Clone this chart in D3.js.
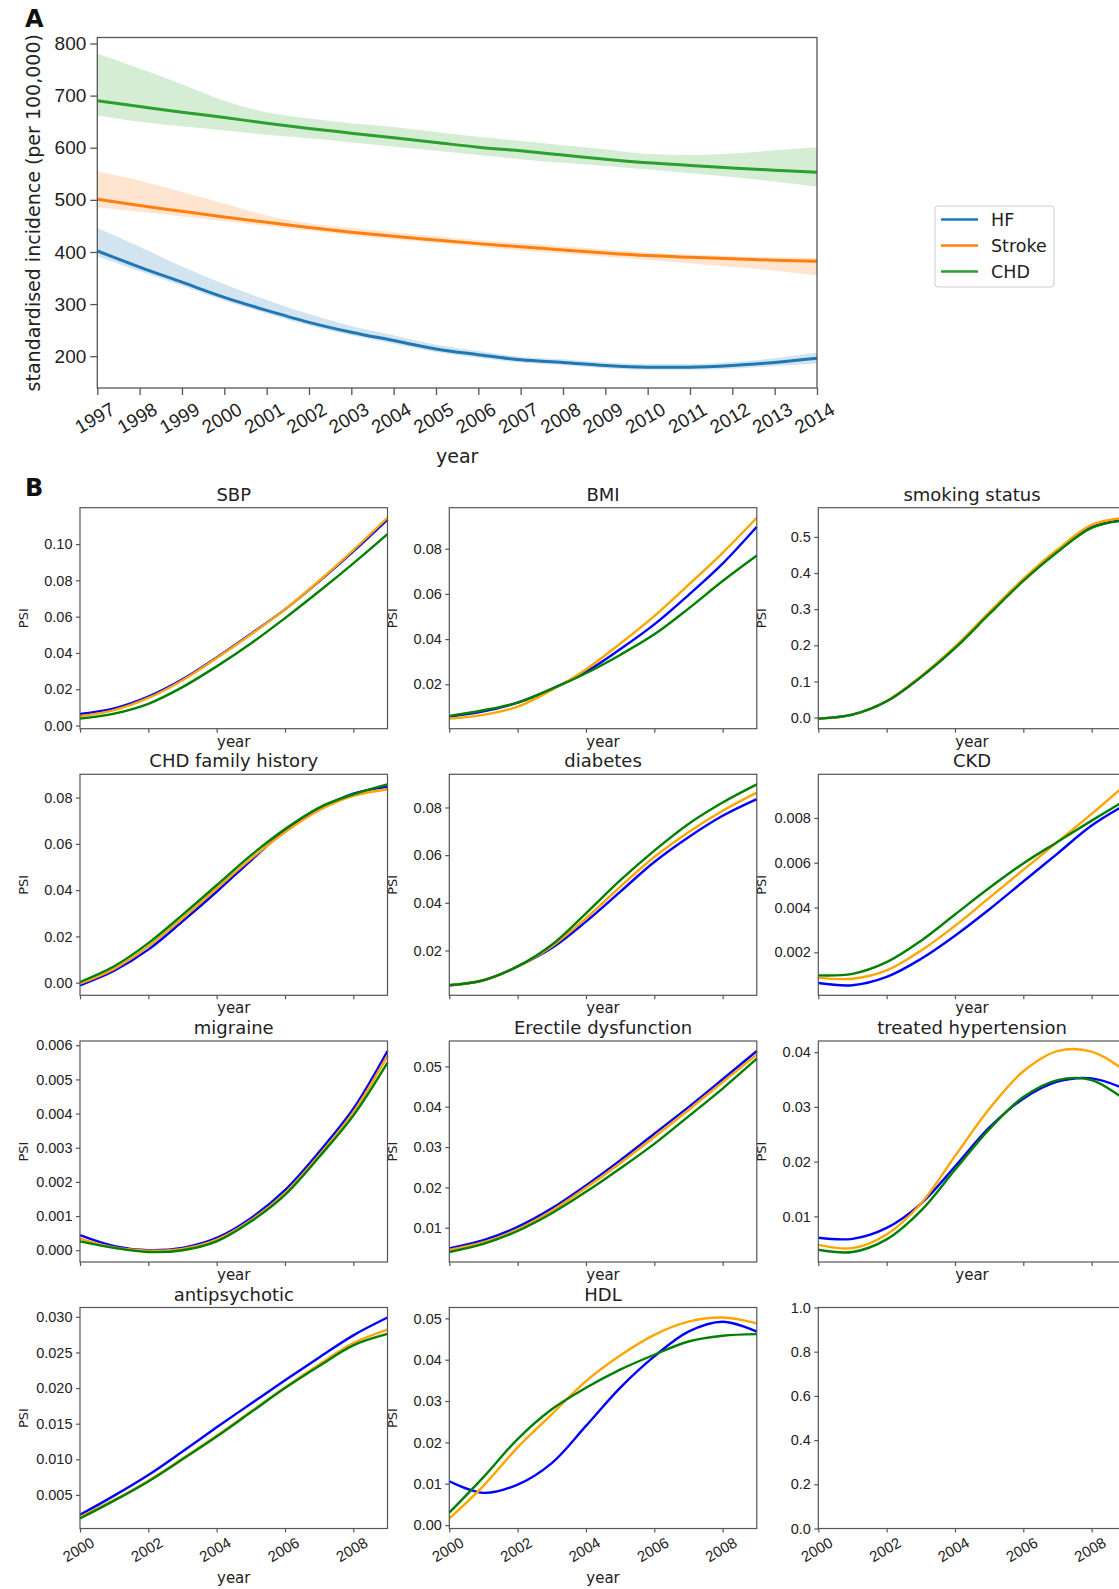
<!DOCTYPE html>
<html>
<head>
<meta charset="utf-8">
<script src="https://cdnjs.cloudflare.com/ajax/libs/d3/7.8.5/d3.min.js"></script>
<style>
  body { margin: 0; background: #fff; }
  svg { display: block; font-family: 'DejaVu Sans', sans-serif; }
</style>
</head>
<body>
<svg id="canvas"></svg>
<script>
// Canvas size
var canvasWidth = 1119;
var canvasHeight = 1589;

// ---- Panel A data ----
var yearsA = [1997, 1998, 1999, 2000, 2001, 2002, 2003, 2004, 2005, 2006, 2007, 2008, 2009, 2010, 2011, 2012, 2013, 2014];
var seriesNames = ['HF', 'Stroke', 'CHD'];
var colorsA = ['#1f77b4', '#ff7f0e', '#2ca02c'];

var hfMid = [402, 371, 342, 313, 288, 265, 246, 230, 214, 203, 193, 188, 182, 179, 179, 182, 188, 196];
var hfHigh = [446, 410, 372, 338, 308, 281, 258, 240, 222, 210, 199, 194, 188, 185, 185, 189, 196, 207];
var hfLow = [392, 363, 335, 307, 282, 259, 240, 224, 208, 197, 188, 183, 177, 174, 174, 176, 181, 186];

var strokeMid = [501, 489, 478, 467, 457, 447, 438, 430, 423, 416, 410, 404, 398, 393, 390, 387, 384, 382];
var strokeHigh = [555, 537, 515, 493, 470, 455, 446, 438, 430, 423, 417, 411, 405, 399, 395, 392, 390, 389];
var strokeLow = [486, 477, 468, 459, 450, 441, 432, 424, 417, 410, 403, 397, 391, 385, 378, 371, 364, 355];

var chdMid = [690, 679, 668, 658, 647, 637, 628, 619, 610, 601, 594, 586, 578, 571, 566, 561, 557, 553];
var chdHigh = [781, 752, 722, 690, 668, 656, 647, 640, 630, 621, 613, 605, 597, 588, 586, 589, 595, 601];
var chdLow = [662, 650, 641, 633, 625, 618, 610, 602, 594, 586, 578, 571, 565, 558, 551, 544, 535, 525];

var yTicksA = [200, 300, 400, 500, 600, 700, 800];

// ---- Panel B data ----
var yearsB = [2000, 2001, 2002, 2003, 2004, 2005, 2006, 2007, 2008, 2009];
var xTicksB = [2000, 2002, 2004, 2006, 2008];
var colorsB = ['#0000ff', '#ffa500', '#008000'];

var sbpHF = [0.0064, 0.0095, 0.0160, 0.0255, 0.0375, 0.0505, 0.0640, 0.0795, 0.0960, 0.1135];
var sbpStroke = [0.0051, 0.0085, 0.0152, 0.0250, 0.0372, 0.0502, 0.0640, 0.0798, 0.0967, 0.1145];
var sbpCHD = [0.0038, 0.0066, 0.0120, 0.0212, 0.0326, 0.0452, 0.0592, 0.0740, 0.0894, 0.1055];

var bmiHF = [0.0057, 0.0080, 0.0119, 0.0180, 0.0255, 0.0355, 0.0465, 0.0595, 0.0734, 0.0897];
var bmiStroke = [0.0048, 0.0065, 0.0101, 0.0175, 0.0266, 0.0380, 0.0502, 0.0640, 0.0782, 0.0937];
var bmiCHD = [0.0060, 0.0085, 0.0119, 0.0180, 0.0249, 0.0330, 0.0421, 0.0535, 0.0657, 0.0770];

var smokingHF = [-0.003, 0.008, 0.045, 0.112, 0.193, 0.288, 0.380, 0.460, 0.527, 0.548];
var smokingStroke = [-0.003, 0.008, 0.046, 0.114, 0.196, 0.291, 0.384, 0.465, 0.533, 0.553];
var smokingCHD = [-0.003, 0.008, 0.045, 0.112, 0.192, 0.286, 0.378, 0.458, 0.525, 0.546];

var famHF = [-0.0011, 0.0052, 0.0143, 0.0265, 0.0393, 0.0528, 0.0657, 0.0750, 0.0817, 0.0846];
var famStroke = [-0.0004, 0.0060, 0.0157, 0.0278, 0.0407, 0.0535, 0.0650, 0.0745, 0.0807, 0.0836];
var famCHD = [0.0003, 0.0071, 0.0171, 0.0293, 0.0421, 0.0550, 0.0664, 0.0757, 0.0814, 0.0857];

var diabetesHF = [0.0054, 0.0075, 0.0133, 0.0210, 0.0321, 0.0446, 0.0571, 0.0675, 0.0765, 0.0835];
var diabetesStroke = [0.0054, 0.0075, 0.0133, 0.0217, 0.0335, 0.0467, 0.0592, 0.0696, 0.0786, 0.0862];
var diabetesCHD = [0.0054, 0.0075, 0.0133, 0.0224, 0.0356, 0.0494, 0.0619, 0.0731, 0.0821, 0.0897];

var ckdHF = [0.00063, 0.00053, 0.00090, 0.00170, 0.00274, 0.00391, 0.00516, 0.00641, 0.00766, 0.00860];
var ckdStroke = [0.00087, 0.00082, 0.00119, 0.00207, 0.00318, 0.00443, 0.00568, 0.00693, 0.00818, 0.00950];
var ckdCHD = [0.00097, 0.00104, 0.00156, 0.00251, 0.00369, 0.00487, 0.00597, 0.00693, 0.00788, 0.00880];

var migraineHF = [0.00044, 0.00012, 0.00000, 0.00007, 0.00036, 0.00094, 0.00176, 0.00288, 0.00414, 0.00583];
var migraineStroke = [0.00034, 0.00008, -0.00001, 0.00004, 0.00031, 0.00088, 0.00167, 0.00278, 0.00404, 0.00569];
var migraineCHD = [0.00026, 0.00007, -0.00005, 0.00000, 0.00026, 0.00084, 0.00162, 0.00273, 0.00394, 0.00549];

var edHF = [0.0049, 0.0069, 0.0102, 0.0148, 0.0205, 0.0267, 0.0333, 0.0399, 0.0468, 0.0538];
var edStroke = [0.0045, 0.0064, 0.0096, 0.0142, 0.0199, 0.0260, 0.0325, 0.0392, 0.0461, 0.0529];
var edCHD = [0.0040, 0.0060, 0.0092, 0.0136, 0.0189, 0.0247, 0.0308, 0.0376, 0.0445, 0.0519];

var hypHF = [0.0061, 0.0059, 0.0079, 0.0123, 0.0191, 0.0262, 0.0315, 0.0346, 0.0352, 0.0332];
var hypStroke = [0.0048, 0.0042, 0.0067, 0.0123, 0.0210, 0.0296, 0.0365, 0.0402, 0.0401, 0.0365];
var hypCHD = [0.0039, 0.0035, 0.0058, 0.0110, 0.0185, 0.0259, 0.0318, 0.0349, 0.0349, 0.0312];

var antiHF = [0.0022, 0.0049, 0.0078, 0.0111, 0.0145, 0.0178, 0.0211, 0.0243, 0.0274, 0.0299];
var antiStroke = [0.0019, 0.0043, 0.0070, 0.0101, 0.0133, 0.0167, 0.0201, 0.0233, 0.0263, 0.0282];
var antiCHD = [0.0017, 0.0042, 0.0069, 0.0100, 0.0132, 0.0166, 0.0200, 0.0231, 0.0260, 0.0276];

var hdlHF = [0.0106, 0.0078, 0.0098, 0.0150, 0.0240, 0.0332, 0.0408, 0.0468, 0.0492, 0.0468];
var hdlStroke = [0.0016, 0.0095, 0.0188, 0.0268, 0.0348, 0.0410, 0.0460, 0.0492, 0.0502, 0.0488];
var hdlCHD = [0.0030, 0.0116, 0.0208, 0.0280, 0.0332, 0.0376, 0.0412, 0.0444, 0.0458, 0.0462];

// Tick labels per panel
var sbpTicks = [0, 0.02, 0.04, 0.06, 0.08, 0.10];
var bmiTicks = [0.02, 0.04, 0.06, 0.08];
var smokingTicks = [0, 0.1, 0.2, 0.3, 0.4, 0.5];
var famTicks = [0, 0.02, 0.04, 0.06, 0.08];
var diabetesTicks = [0.02, 0.04, 0.06, 0.08];
var ckdTicks = [0.002, 0.004, 0.006, 0.008];
var migraineTicks = [0, 0.001, 0.002, 0.003, 0.004, 0.005, 0.006];
var edTicks = [0.01, 0.02, 0.03, 0.04, 0.05];
var hypTicks = [0.01, 0.02, 0.03, 0.04];
var antiTicks = [0.005, 0.010, 0.015, 0.020, 0.025, 0.030];
var hdlTicks = [0, 0.01, 0.02, 0.03, 0.04, 0.05];
var emptyTicks = [0, 0.2, 0.4, 0.6, 0.8, 1.0];

var panels = [
  { title: 'SBP', series: [sbpHF, sbpStroke, sbpCHD], ticks: sbpTicks, digits: 2 },
  { title: 'BMI', series: [bmiHF, bmiStroke, bmiCHD], ticks: bmiTicks, digits: 2 },
  { title: 'smoking status', series: [smokingHF, smokingStroke, smokingCHD], ticks: smokingTicks, digits: 1 },
  { title: 'CHD family history', series: [famHF, famStroke, famCHD], ticks: famTicks, digits: 2 },
  { title: 'diabetes', series: [diabetesHF, diabetesStroke, diabetesCHD], ticks: diabetesTicks, digits: 2 },
  { title: 'CKD', series: [ckdHF, ckdStroke, ckdCHD], ticks: ckdTicks, digits: 3 },
  { title: 'migraine', series: [migraineHF, migraineStroke, migraineCHD], ticks: migraineTicks, digits: 3 },
  { title: 'Erectile dysfunction', series: [edHF, edStroke, edCHD], ticks: edTicks, digits: 2 },
  { title: 'treated hypertension', series: [hypHF, hypStroke, hypCHD], ticks: hypTicks, digits: 2 },
  { title: 'antipsychotic', series: [antiHF, antiStroke, antiCHD], ticks: antiTicks, digits: 3 },
  { title: 'HDL', series: [hdlHF, hdlStroke, hdlCHD], ticks: hdlTicks, digits: 2 },
  { title: '', series: [], ticks: emptyTicks, digits: 1 }
];

var textColor = '#222';
var spineColor = '#555';

var svg = d3.select('#canvas')
  .attr('width', canvasWidth)
  .attr('height', canvasHeight);

/**
 * Panel A: standardised incidence with confidence bands.
 */
function drawPanelA() {
  var box = { left: 97.3, right: 817, top: 37.5, bottom: 388 };

  var xScale = d3.scaleLinear()
    .domain([yearsA[0], yearsA[yearsA.length - 1]])
    .range([box.left, box.right]);

  var yScale = d3.scaleLinear()
    .domain([139, 811.5])
    .range([box.bottom, box.top]);

  var mids = [hfMid, strokeMid, chdMid];
  var highs = [hfHigh, strokeHigh, chdHigh];
  var lows = [hfLow, strokeLow, chdLow];

  var g = svg.append('g').attr('class', 'panel-a');

  // Bands
  mids.forEach(function(mid, i) {
    var area = d3.area()
      .x(function(d, j) { return xScale(yearsA[j]); })
      .y0(function(d, j) { return yScale(lows[i][j]); })
      .y1(function(d, j) { return yScale(highs[i][j]); })
      .curve(d3.curveMonotoneX);

    g.append('path')
      .datum(mid)
      .attr('d', area)
      .attr('fill', colorsA[i])
      .attr('fill-opacity', 0.2)
      .attr('stroke', 'none');
  });

  // Lines
  mids.forEach(function(mid, i) {
    var line = d3.line()
      .x(function(d, j) { return xScale(yearsA[j]); })
      .y(function(d) { return yScale(d); })
      .curve(d3.curveMonotoneX);

    g.append('path')
      .datum(mid)
      .attr('d', line)
      .attr('fill', 'none')
      .attr('stroke', colorsA[i])
      .attr('stroke-width', 3);
  });

  // Axes
  var yAxis = d3.axisLeft(yScale)
    .tickValues(yTicksA)
    .tickSize(7)
    .tickPadding(4);

  var xAxis = d3.axisBottom(xScale)
    .tickValues(yearsA)
    .tickFormat(d3.format('d'))
    .tickSize(7);

  var ya = g.append('g')
    .attr('transform', 'translate(' + box.left + ',0)')
    .call(yAxis);

  var xa = g.append('g')
    .attr('transform', 'translate(0,' + box.bottom + ')')
    .call(xAxis);

  [ya, xa].forEach(function(a) {
    a.select('.domain').remove();
    a.selectAll('line').attr('stroke', spineColor).attr('stroke-width', 1.3);
    a.selectAll('text')
      .attr('fill', textColor)
      .style('font-size', '19px');
  });

  xa.selectAll('text')
    .attr('x', 0)
    .attr('y', 0)
    .attr('dy', '0.35em')
    .attr('text-anchor', 'middle')
    .attr('transform', 'translate(-3,30) rotate(-30)');

  // Frame
  g.append('rect')
    .attr('x', box.left)
    .attr('y', box.top)
    .attr('width', box.right - box.left)
    .attr('height', box.bottom - box.top)
    .attr('fill', 'none')
    .attr('stroke', spineColor)
    .attr('stroke-width', 1.3);

  // Axis labels
  g.append('text')
    .attr('transform', 'translate(40,' + ((box.top + box.bottom) / 2) + ') rotate(-90)')
    .attr('text-anchor', 'middle')
    .attr('fill', textColor)
    .style('font-size', '19px')
    .text('standardised incidence (per 100,000)');

  g.append('text')
    .attr('x', (box.left + box.right) / 2)
    .attr('y', 463)
    .attr('text-anchor', 'middle')
    .attr('fill', textColor)
    .style('font-size', '19px')
    .text('year');

  // Legend
  var legend = g.append('g').attr('class', 'legend');
  legend.append('rect')
    .attr('x', 935)
    .attr('y', 206)
    .attr('width', 119)
    .attr('height', 81)
    .attr('rx', 3)
    .attr('fill', '#fff')
    .attr('stroke', '#ccc');

  seriesNames.forEach(function(name, i) {
    var ly = 219.5 + i * 26;
    legend.append('line')
      .attr('x1', 941)
      .attr('x2', 978)
      .attr('y1', ly)
      .attr('y2', ly)
      .attr('stroke', colorsA[i])
      .attr('stroke-width', 2.5);
    legend.append('text')
      .attr('x', 991)
      .attr('y', ly)
      .attr('dy', '0.35em')
      .attr('fill', textColor)
      .style('font-size', '17.5px')
      .text(name);
  });

  svg.append('text')
    .attr('x', 25)
    .attr('y', 27)
    .attr('fill', '#111')
    .style('font-size', '24px')
    .style('font-weight', 'bold')
    .text('A');
}

/**
 * Panel B: small multiples of PSI by risk factor.
 */
function drawPanelB() {
  var colLeft = [80, 449.3, 818.3];
  var rowTop = [507.7, 774.3, 1041, 1307.5];
  var panelWidth = 307.5;
  var panelHeight = 221;

  svg.append('text')
    .attr('x', 25)
    .attr('y', 496)
    .attr('fill', '#111')
    .style('font-size', '24px')
    .style('font-weight', 'bold')
    .text('B');

  panels.forEach(function(p, idx) {
    var row = Math.floor(idx / 3);
    var col = idx % 3;
    var left = colLeft[col];
    var top = rowTop[row];
    var bottom = top + panelHeight;
    var isBottomRow = row === 3;

    var xScale = d3.scaleLinear()
      .domain([yearsB[0], yearsB[yearsB.length - 1]])
      .range([left, left + panelWidth]);

    var yDomain = [0, 1];
    if (p.series.length) {
      var all = d3.merge(p.series);
      var ext = d3.extent(all);
      var pad = (ext[1] - ext[0]) * 0.05;
      yDomain = [ext[0] - pad, ext[1] + pad];
    }

    var yScale = d3.scaleLinear()
      .domain(yDomain)
      .range([bottom, top]);

    var g = svg.append('g').attr('class', 'panel-b');

    var line = d3.line()
      .x(function(d, j) { return xScale(yearsB[j]); })
      .y(function(d) { return yScale(d); })
      .curve(d3.curveCatmullRom.alpha(0.5));

    p.series.forEach(function(s, i) {
      g.append('path')
        .datum(s)
        .attr('d', line)
        .attr('fill', 'none')
        .attr('stroke', colorsB[i])
        .attr('stroke-width', 2.4);
    });

    var yAxis = d3.axisLeft(yScale)
      .tickValues(p.ticks)
      .tickFormat(d3.format('.' + p.digits + 'f'))
      .tickSize(4)
      .tickPadding(3.5);

    var xAxis = d3.axisBottom(xScale)
      .tickValues(xTicksB)
      .tickFormat(isBottomRow ? d3.format('d') : '')
      .tickSize(4);

    var ya = g.append('g')
      .attr('transform', 'translate(' + left + ',0)')
      .call(yAxis);

    var xa = g.append('g')
      .attr('transform', 'translate(0,' + bottom + ')')
      .call(xAxis);

    [ya, xa].forEach(function(a) {
      a.select('.domain').remove();
      a.selectAll('line').attr('stroke', spineColor).attr('stroke-width', 1.2);
      a.selectAll('text')
        .attr('fill', textColor)
        .style('font-size', '14.5px');
    });

    if (isBottomRow) {
      xa.selectAll('text')
        .style('font-size', '15px')
        .attr('x', 0)
        .attr('y', 0)
        .attr('dy', '0.35em')
        .attr('text-anchor', 'middle')
        .attr('transform', 'translate(-2,21) rotate(-30)');
    }

    g.append('rect')
      .attr('x', left)
      .attr('y', top)
      .attr('width', panelWidth)
      .attr('height', panelHeight)
      .attr('fill', 'none')
      .attr('stroke', spineColor)
      .attr('stroke-width', 1.2);

    if (p.title) {
      g.append('text')
        .attr('x', left + panelWidth / 2)
        .attr('y', top - 7)
        .attr('text-anchor', 'middle')
        .attr('fill', textColor)
        .style('font-size', '18px')
        .text(p.title);
    }

    if (p.series.length) {
      g.append('text')
        .attr('transform', 'translate(' + (left - 52) + ',' + (top + panelHeight / 2) + ') rotate(-90)')
        .attr('text-anchor', 'middle')
        .attr('fill', textColor)
        .style('font-size', '13px')
        .text('PSI');

      g.append('text')
        .attr('x', left + panelWidth / 2)
        .attr('y', isBottomRow ? bottom + 54 : bottom + 18)
        .attr('text-anchor', 'middle')
        .attr('fill', textColor)
        .style('font-size', '15px')
        .text('year');
    }
  });
}

drawPanelA();
drawPanelB();
</script>
</body>
</html>
